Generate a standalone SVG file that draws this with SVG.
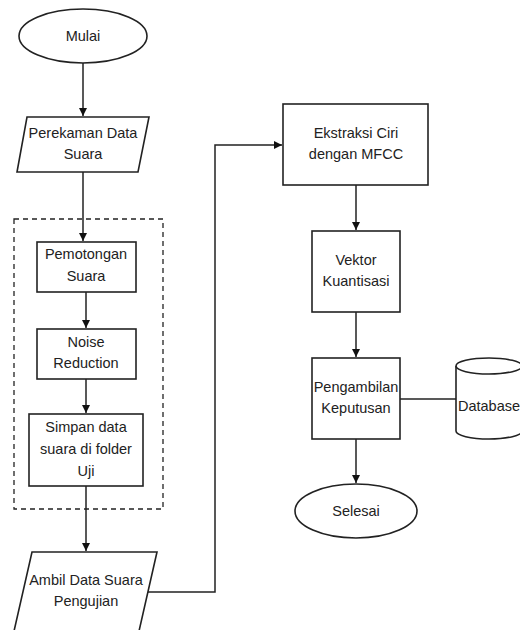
<svg xmlns="http://www.w3.org/2000/svg" width="520" height="630" viewBox="0 0 520 630">
<style>
.s{fill:#fff;stroke:#222;stroke-width:1.6}
.c{fill:none;stroke:#222;stroke-width:1.5}
.d{fill:none;stroke:#222;stroke-width:1.3;stroke-dasharray:5,4}
text{font-family:"Liberation Sans",Arial,sans-serif;font-size:14.5px;fill:#222;text-anchor:middle}
</style>
<defs>
<marker id="a" viewBox="0 0 10 10" refX="10" refY="5" markerWidth="8" markerHeight="8" markerUnits="userSpaceOnUse" orient="auto">
<path d="M0,0 L10,5 L0,10 z" fill="#111"/>
</marker>
</defs>
<rect class="d" x="14" y="219" width="149" height="290"/>
<g id="connectors">
<path class="c" d="M83,63 V116" marker-end="url(#a)"/>
<path class="c" d="M83,172 V241" marker-end="url(#a)"/>
<path class="c" d="M86,292 V328" marker-end="url(#a)"/>
<path class="c" d="M86,379 V413" marker-end="url(#a)"/>
<path class="c" d="M86,486 V551" marker-end="url(#a)"/>
<path class="c" d="M148,592 H215 V145 H282" marker-end="url(#a)"/>
<path class="c" d="M356,185 V230" marker-end="url(#a)"/>
<path class="c" d="M356,312 V357" marker-end="url(#a)"/>
<path class="c" d="M400,399 H456"/>
<path class="c" d="M356,439 V483" marker-end="url(#a)"/>
</g>
<g id="mulai"><ellipse class="s" cx="83" cy="36" rx="64" ry="27"/><text x="83" y="41">Mulai</text></g>
<g id="perekaman"><polygon class="s" points="27,117 149,117 138,172 17,172"/><text x="83" y="138">Perekaman Data</text><text x="83" y="159">Suara</text></g>
<g id="pemotongan"><rect class="s" x="37" y="242" width="99" height="50"/><text x="86" y="259">Pemotongan</text><text x="86" y="281">Suara</text></g>
<g id="noise"><rect class="s" x="37" y="329" width="99" height="50"/><text x="86" y="347">Noise</text><text x="86" y="368">Reduction</text></g>
<g id="simpan"><rect class="s" x="29" y="414" width="114" height="72"/><text x="86" y="432">Simpan data</text><text x="86" y="454">suara di folder</text><text x="86" y="476">Uji</text></g>
<g id="ambil"><polygon class="s" points="32,552 157,552 137,640 12,640"/><text x="86" y="585">Ambil Data Suara</text><text x="86" y="606">Pengujian</text></g>
<g id="ekstraksi"><rect class="s" x="283" y="104" width="145" height="81"/><text x="356" y="138">Ekstraksi Ciri</text><text x="356" y="159">dengan MFCC</text></g>
<g id="vektor"><rect class="s" x="312" y="231" width="88" height="81"/><text x="356" y="265">Vektor</text><text x="356" y="286">Kuantisasi</text></g>
<g id="pengambilan"><rect class="s" x="312" y="358" width="88" height="81"/><text x="356" y="392">Pengambilan</text><text x="356" y="413">Keputusan</text></g>
<g id="database"><path class="s" d="M456,366 V431 A33,8 0 0 0 522,431 V366"/><ellipse class="s" cx="489" cy="366" rx="33" ry="8"/><text x="489" y="411">Database</text></g>
<g id="selesai"><ellipse class="s" cx="356" cy="511" rx="61" ry="27"/><text x="356" y="516">Selesai</text></g>
</svg>
